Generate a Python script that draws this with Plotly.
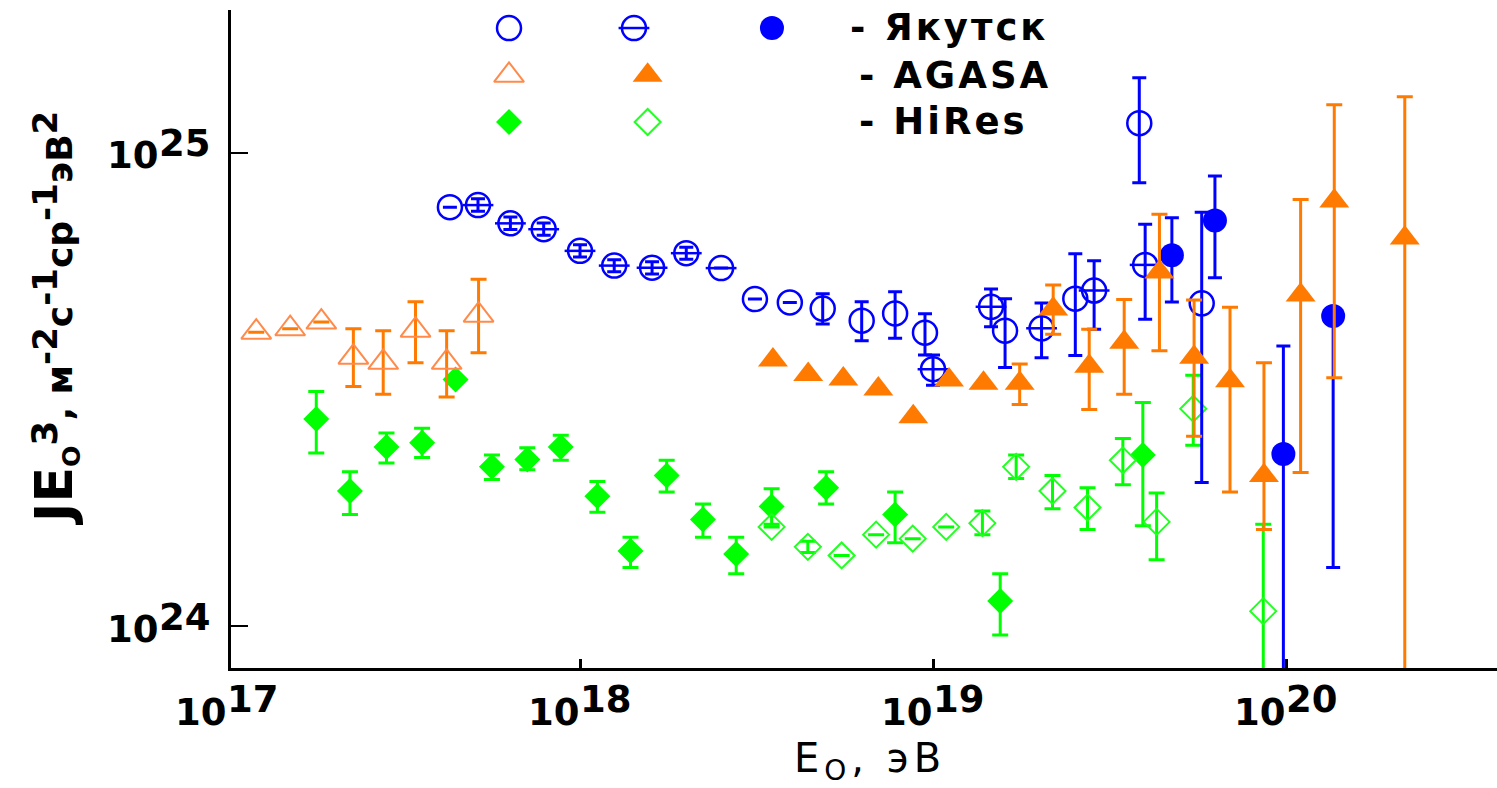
import plotly.graph_objects as go

# ---------------- data: J*E^3 spectra ----------------
# Yakutsk, open circles
yak_o_E  = [4.28e17, 3.13e18, 3.93e18, 4.87e18, 6.28e18, 7.81e18, 9.49e18, 1.60e19, 2.53e19, 3.84e19, 5.77e19]
yak_o_J  = [7.68e24, 4.91e24, 4.83e24, 4.69e24, 4.42e24, 4.58e24, 4.17e24, 4.21e24, 4.92e24, 1.156e25, 4.81e24]
yak_o_hi = [None, None, None, 5.04e24, 4.85e24, 5.09e24, 4.57e24, 4.92e24, 6.12e24, 1.443e25, 7.49e24]
yak_o_lo = [None, None, None, 4.35e24, 4.01e24, 4.06e24, 3.74e24, 3.52e24, 3.73e24, 8.65e24, 2.01e24]

# Yakutsk, crossed circles
yak_m_E  = [5.14e17, 6.35e17, 7.89e17, 1.00e18, 1.25e18, 1.60e18, 2.00e18, 2.51e18, 1.00e19, 1.46e19, 2.03e19, 2.86e19, 3.99e19]
yak_m_J  = [7.76e24, 7.10e24, 6.90e24, 6.21e24, 5.78e24, 5.72e24, 6.14e24, 5.71e24, 3.49e24, 4.73e24, 4.26e24, 5.12e24, 5.80e24]
yak_m_hi = [8.00e24, 7.32e24, 7.11e24, 6.40e24, 5.95e24, 5.89e24, 6.32e24, None, 3.74e24, 5.16e24, 4.82e24, 5.92e24, 7.07e24]
yak_m_lo = [7.53e24, 6.89e24, 6.70e24, 6.03e24, 5.61e24, 5.55e24, 5.96e24, None, 3.23e24, 4.29e24, 3.69e24, 4.24e24, 4.45e24]

# Yakutsk, filled circles
yak_f_E  = [4.75e19, 6.29e19, 9.83e19, 1.36e20]
yak_f_J  = [6.08e24, 7.20e24, 2.31e24, 4.52e24]
yak_f_hi = [7.30e24, 8.94e24, 3.91e24, 4.52e24]
yak_f_lo = [4.84e24, 5.45e24, 5.0e23, 1.33e24]

# AGASA, open triangles
aga_o_E  = [1.21e17, 1.51e17, 1.85e17, 2.28e17, 2.77e17, 3.42e17, 4.19e17, 5.16e17]
aga_o_J  = [4.18e24, 4.25e24, 4.39e24, 3.70e24, 3.61e24, 4.22e24, 3.61e24, 4.54e24]
aga_o_hi = [None, None, None, 4.25e24, 4.21e24, 4.85e24, 4.21e24, 5.41e24]
aga_o_lo = [None, None, None, 3.21e24, 3.09e24, 3.60e24, 3.05e24, 3.78e24]

# AGASA, filled triangles
aga_f_E  = [3.52e18, 4.43e18, 5.57e18, 7.00e18, 8.79e18, 1.11e19, 1.39e19, 1.76e19, 2.19e19,
            2.77e19, 3.48e19, 4.38e19, 5.49e19, 6.94e19, 8.66e19, 1.10e20, 1.37e20, 2.17e20]
aga_f_J  = [3.65e24, 3.40e24, 3.33e24, 3.17e24, 2.77e24, 3.31e24, 3.26e24, 3.26e24, 4.68e24,
            3.54e24, 3.98e24, 5.60e24, 3.70e24, 3.30e24, 2.08e24, 5.01e24, 7.92e24, 6.61e24]
aga_f_hi = [None, None, None, None, None, None, None, 3.58e24, 5.26e24,
            4.24e24, 4.90e24, 7.42e24, 4.89e24, 4.72e24, 3.60e24, 7.97e24, 1.265e25, 1.315e25]
aga_f_lo = [None, None, None, None, None, None, None, 2.94e24, 4.14e24,
            2.87e24, 3.09e24, 3.82e24, 2.52e24, 1.92e24, 1.60e24, 2.11e24, 3.35e24, 5.0e23]

# HiRes, filled diamonds
hir_f_E  = [1.79e17, 2.23e17, 2.83e17, 3.57e17, 4.44e17, 5.63e17, 7.09e17, 8.82e17, 1.12e18,
            1.39e18, 1.76e18, 2.23e18, 2.77e18, 3.49e18, 4.98e18, 7.81e18, 1.55e19, 3.93e19]
hir_f_J  = [2.74e24, 1.93e24, 2.39e24, 2.44e24, 3.32e24, 2.17e24, 2.25e24, 2.39e24, 1.88e24,
            1.44e24, 2.08e24, 1.68e24, 1.42e24, 1.79e24, 1.96e24, 1.72e24, 1.13e24, 2.30e24]
hir_f_hi = [3.13e24, 2.12e24, 2.56e24, 2.62e24, None, 2.30e24, 2.38e24, 2.53e24, 2.02e24,
            1.54e24, 2.24e24, 1.81e24, 1.54e24, 1.95e24, 2.12e24, 1.92e24, 1.29e24, 2.97e24]
hir_f_lo = [2.32e24, 1.72e24, 2.21e24, 2.27e24, None, 2.04e24, 2.14e24, 2.24e24, 1.74e24,
            1.33e24, 1.92e24, 1.54e24, 1.29e24, 1.64e24, 1.81e24, 1.50e24, 9.57e23, 1.63e24]

# HiRes, open diamonds
hir_o_E  = [3.49e18, 4.42e18, 5.51e18, 6.90e18, 8.76e18, 1.09e19, 1.38e19, 1.72e19, 2.18e19,
            2.74e19, 3.45e19, 4.30e19, 5.46e19, 8.62e19]
hir_o_J  = [1.62e24, 1.47e24, 1.41e24, 1.56e24, 1.53e24, 1.62e24, 1.65e24, 2.17e24, 1.93e24,
            1.78e24, 2.24e24, 1.66e24, 2.88e24, 1.075e24]
hir_o_hi = [None, 1.51e24, None, None, None, None, 1.75e24, 2.30e24, 2.08e24,
            1.96e24, 2.49e24, 1.91e24, 3.39e24, 1.64e24]
hir_o_lo = [None, 1.43e24, None, None, None, None, 1.56e24, 2.05e24, 1.77e24,
            1.60e24, 1.99e24, 1.38e24, 2.41e24, 5.0e23]

x_tick_exp = [17, 18, 19, 20]
y_tick_exp = [24, 25]

legend_names = ["- Якутск", "- AGASA", "- HiRes"]

BLUE = "#0000ff"
ORANGE = "#ff7a00"
ORANGE_LIGHT = "#ff8a4a"
GREEN = "#00ff00"
GREEN_OPEN = "#22ff22"
FONT = "DejaVu Sans"

X_RANGE = [17.0113, 20.5977]
Y_RANGE = [23.9112, 25.3023]


def err(vals, hi, lo, color, cap):
    plus = [None if h is None else h - v for v, h in zip(vals, hi)]
    minus = [None if l is None else v - l for v, l in zip(vals, lo)]
    return dict(type="data", symmetric=False, array=plus, arrayminus=minus,
                color=color, thickness=3, width=cap, visible=True)


def series(E, J, hi, lo, symbol, color, size, ecolor, cap, lw=2.5):
    return go.Scatter(
        x=E, y=J, mode="markers", showlegend=False,
        marker=dict(symbol=symbol, size=size, color=color, line=dict(color=color, width=lw)),
        error_y=err(J, hi, lo, ecolor, cap),
    )


fig = go.Figure()

# HiRes
fig.add_trace(series(hir_f_E, hir_f_J, hir_f_hi, hir_f_lo, "diamond", GREEN, 20, GREEN, 8, 0))
fig.add_trace(series(hir_o_E, hir_o_J, hir_o_hi, hir_o_lo, "diamond-open", GREEN_OPEN, 20, GREEN, 8, 2))
# Yakutsk
fig.add_trace(series(yak_o_E, yak_o_J, yak_o_hi, yak_o_lo, "circle-open", BLUE, 24, BLUE, 7))
fig.add_trace(series(yak_m_E, yak_m_J, yak_m_hi, yak_m_lo, "circle-open", BLUE, 24, BLUE, 7))
fig.add_trace(go.Scatter(x=yak_m_E, y=yak_m_J, mode="markers", showlegend=False,
                         marker=dict(symbol="line-ew-open", size=22, color=BLUE,
                                     line=dict(color=BLUE, width=2.5))))
fig.add_trace(series(yak_f_E, yak_f_J, yak_f_hi, yak_f_lo, "circle", BLUE, 24, BLUE, 7, 0))
# AGASA
fig.add_trace(series(aga_o_E, aga_o_J, aga_o_hi, aga_o_lo, "triangle-up-open", ORANGE_LIGHT, 26, ORANGE, 8, 2))
fig.add_trace(series(aga_f_E, aga_f_J, aga_f_hi, aga_f_lo, "triangle-up", ORANGE, 26, ORANGE, 8, 0))

# ---------------- in-plot key (overlay axes in plot-fraction units) ----------------
key_rows = [0.9726, 0.9008, 0.8298]
key_cols = [0.2196, 0.3183, 0.4273, 0.3291]


def key(x, y, symbol, color, size, lw=2.5):
    fig.add_trace(go.Scatter(x=[x], y=[y], mode="markers", showlegend=False, xaxis="x2", yaxis="y2",
                             marker=dict(symbol=symbol, size=size, color=color,
                                         line=dict(color=color, width=lw))))


key(key_cols[0], key_rows[0], "circle-open", BLUE, 24)
key(key_cols[1], key_rows[0], "circle-open", BLUE, 24)
key(key_cols[1], key_rows[0], "line-ew-open", BLUE, 22)
key(key_cols[2], key_rows[0], "circle", BLUE, 24, 0)
key(key_cols[0], key_rows[1], "triangle-up-open", ORANGE_LIGHT, 26, 2)
key(key_cols[3], key_rows[1], "triangle-up", ORANGE, 26, 0)
key(key_cols[0], key_rows[2], "diamond", GREEN, 20, 0)
key(key_cols[3], key_rows[2], "diamond-open", GREEN_OPEN, 20, 2)

annotations = []
label_x = [0.4874, 0.4945, 0.4945]
label_y = [0.9731, 0.9000, 0.8302]
for name, lx, ly in zip(legend_names, label_x, label_y):
    annotations.append(dict(
        x=lx, y=ly, xref="paper", yref="paper", xanchor="left", yanchor="middle",
        text="<span style='letter-spacing:3px'>%s</span>" % name, showarrow=False,
        font=dict(family=FONT, size=37, color="black", weight="bold")))

# decade tick labels: mantissa "10" with a raised exponent
tick_font = dict(family=FONT, size=37, color="black", weight="bold")
for e in x_tick_exp:
    xf = (e - X_RANGE[0]) / (X_RANGE[1] - X_RANGE[0])
    annotations.append(dict(x=xf, y=0, xref="paper", yref="paper", xanchor="right", yanchor="top",
                            xshift=2, yshift=-21, text="10", showarrow=False, font=tick_font))
    annotations.append(dict(x=xf, y=0, xref="paper", yref="paper", xanchor="left", yanchor="top",
                            xshift=-2, yshift=-8, text=str(e), showarrow=False, font=tick_font))
for e in y_tick_exp:
    annotations.append(dict(x=0, y=e, xref="paper", yref="y", xanchor="right", yanchor="middle",
                            xshift=-70, yshift=-3, text="10", showarrow=False, font=tick_font))
    annotations.append(dict(x=0, y=e, xref="paper", yref="y", xanchor="right", yanchor="middle",
                            xshift=-18, yshift=9, text=str(e), showarrow=False, font=tick_font))

# axis titles
annotations.append(dict(
    x=-0.139, y=0.532, xref="paper", yref="paper", xanchor="center", yanchor="middle",
    textangle=-90, showarrow=False,
    text=("<span style='font-size:52px'>JE</span><sub>O</sub>"
          "<sup><span style='font-size:36px'>3</span></sup>, м"
          "<sup><span style='font-size:34px'>-2</span></sup>с"
          "<sup><span style='font-size:34px'>-1</span></sup>ср"
          "<sup><span style='font-size:34px'>-1</span></sup>эВ"
          "<sup><span style='font-size:34px'>2</span></sup>"),
    font=dict(family=FONT, size=36, color="black", weight="bold")))
annotations.append(dict(
    x=0.5047, y=-0.141, xref="paper", yref="paper", xanchor="center", yanchor="middle",
    showarrow=False, text="<span style='letter-spacing:5px'>E<sub>O</sub>, эВ</span>",
    font=dict(family=FONT, size=40, color="black")))

fig.update_layout(
    width=1497, height=788,
    margin=dict(l=231, r=0, t=10, b=120),
    paper_bgcolor="white", plot_bgcolor="white",
    showlegend=False,
    xaxis=dict(type="log", range=X_RANGE, showgrid=False, zeroline=False,
               showline=True, linecolor="black", linewidth=3, ticks="inside", ticklen=9,
               tickwidth=3, tickcolor="black", tickvals=[10.0 ** e for e in x_tick_exp],
               showticklabels=False),
    yaxis=dict(type="log", range=Y_RANGE, showgrid=False, zeroline=False,
               showline=True, linecolor="black", linewidth=3, ticks="inside", ticklen=17,
               tickwidth=2, tickcolor="black", tickvals=[10.0 ** e for e in y_tick_exp],
               showticklabels=False),
    xaxis2=dict(overlaying="x", anchor="y2", range=[0, 1], visible=False),
    yaxis2=dict(overlaying="y", anchor="x2", range=[0, 1], visible=False),
    annotations=annotations,
)

fig.write_html("out.html")
